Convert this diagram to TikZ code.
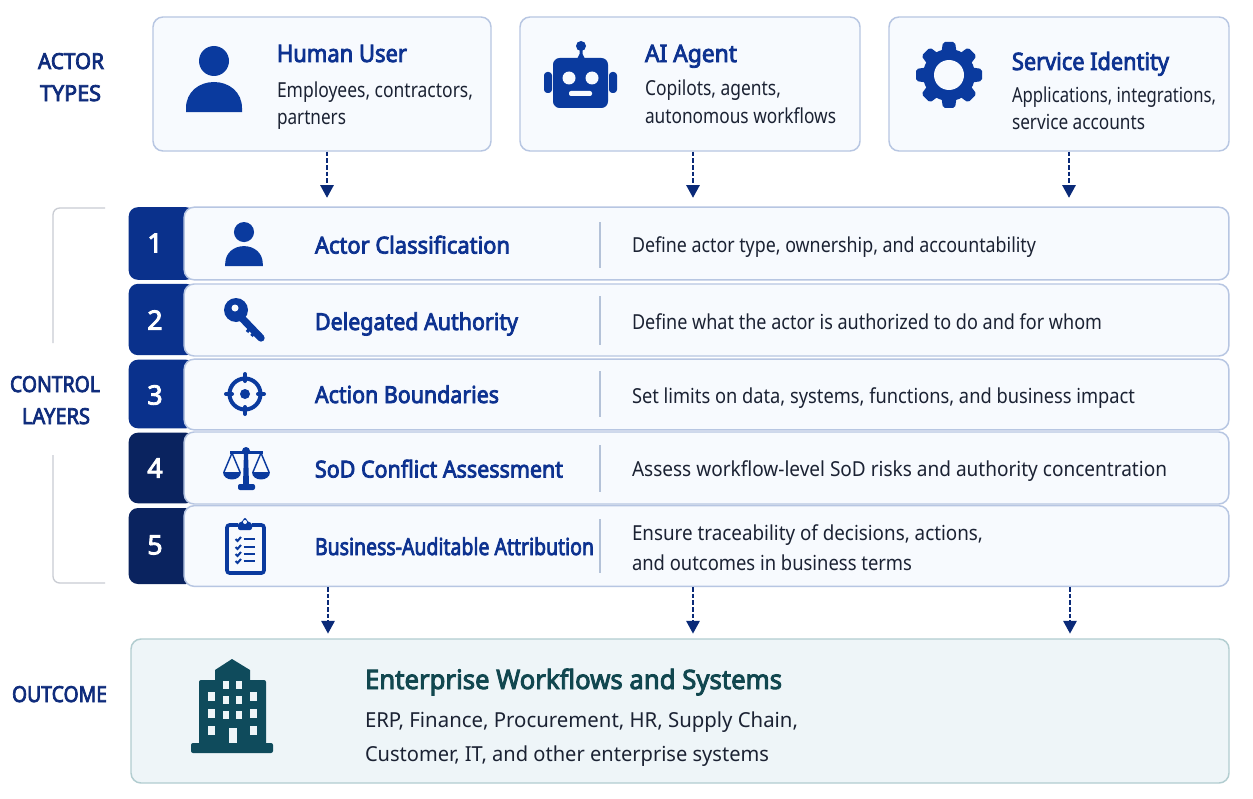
\documentclass[tikz,border=0pt]{standalone}
\usepackage{graphicx}
\usepackage{fontspec}
\usetikzlibrary{arrows.meta}
\setmainfont{Noto Sans}
\newfontfamily\semifont[FakeBold=3.5]{Noto Sans}
\newcommand{\fit}[2]{\resizebox{\dimexpr #1pt*3/4\relax}{\height}{#2}}
\definecolor{cardfill}{HTML}{F7FAFE}
\definecolor{cardline}{HTML}{B7C6E2}
\definecolor{iconblue}{HTML}{0A3A9E}
\definecolor{titleblue}{HTML}{0D3290}
\definecolor{sideblue}{HTML}{0F2C7C}
\definecolor{badgeA}{HTML}{0A318C}
\definecolor{badgeB}{HTML}{0A235F}
\definecolor{bodytext}{HTML}{1B2233}
\definecolor{arrowblue}{HTML}{0A2A78}
\definecolor{divline}{HTML}{B4C2D8}
\definecolor{brack}{HTML}{C9CCD3}
\definecolor{outfill}{HTML}{EEF5F8}
\definecolor{outline}{HTML}{B2CDD0}
\definecolor{outtitle}{HTML}{11474F}
\definecolor{building}{HTML}{0F4B5C}
\tikzset{
  card/.style={draw=cardline,fill=cardfill,line width=1.1pt,rounded corners=7.5pt,inner sep=0pt},
  outcard/.style={draw=outline,fill=outfill,line width=1.1pt,rounded corners=7.5pt,inner sep=0pt},
  badge/.style={fill=#1,rounded corners=7pt,inner sep=0pt,minimum width=50pt},
  txt/.style={anchor=base west,inner sep=0pt,outer sep=0pt},
  side/.style={txt,text=sideblue,font=\semifont\fontsize{16.5}{20}\selectfont},
  head/.style={txt,text=titleblue,font=\semifont\fontsize{18}{22}\selectfont},
  rowhead/.style={txt,text=titleblue,font=\semifont\fontsize{17.5}{22}\selectfont},
  body/.style={txt,text=bodytext,font=\fontsize{15.5}{20}\selectfont},
  num/.style={text=white,inner sep=0pt,font=\semifont\fontsize{20}{24}\selectfont},
  flow/.style={draw=arrowblue,line width=1.3pt,dash pattern=on 3.5pt off 1.5pt,-{Triangle[length=9.5pt,width=10pt]}},
  divider/.style={draw=divline,line width=1pt},
  bracket/.style={draw=brack,line width=1pt,rounded corners=5pt},
  personicon/.pic={
    \fill[iconblue] (0,15) circle[radius=15];
    \fill[iconblue] (-28,66) -- (-28,62) .. controls (-28,46) and (-15,36) .. (0,36) .. controls (15,36) and (28,46) .. (28,62) -- (28,66) -- cycle;
  }
}
\begin{document}
\begin{tikzpicture}[x=0.75pt,y=-0.75pt]
\useasboundingbox (0,0) rectangle (1253,799);
\fill[white] (0,0) rectangle (1253,799);

% actor cards
\node[card,minimum width=253.5pt,minimum height=100.5pt] (human) at (322,84) {};
\node[card,minimum width=255pt,minimum height=100.5pt] (agent) at (690,84) {};
\node[card,minimum width=255pt,minimum height=100.5pt] (service) at (1059,84) {};

% badges
\node[badge=badgeA,minimum height=54.5pt] (b1) at (162,243.5) {};
\node[badge=badgeA,minimum height=53.5pt] (b2) at (162,319.5) {};
\node[badge=badgeA,minimum height=51.5pt] (b3) at (162,394) {};
\node[badge=badgeB,minimum height=53pt] (b4) at (162,468) {};
\node[badge=badgeB,minimum height=57pt] (b5) at (162,546) {};

% rows
\node[card,minimum width=783.5pt,minimum height=54.5pt] (row1) at (706.5,243.5) {};
\node[card,minimum width=783.5pt,minimum height=54pt] (row2) at (706.5,320) {};
\node[card,minimum width=783.5pt,minimum height=53pt] (row3) at (706.5,394.5) {};
\node[card,minimum width=783.5pt,minimum height=54pt] (row4) at (706.5,468) {};
\node[card,minimum width=783.5pt,minimum height=60.5pt] (row5) at (706.5,546) {};

% outcome
\node[outcard,minimum width=823.5pt,minimum height=108pt] (outcome) at (680,711) {};

% connectors
\coordinate (t1) at (327,0);
\coordinate (t2) at (693,0);
\coordinate (t3) at (1069,0);
\coordinate (u1) at (328,0);
\coordinate (u2) at (693,0);
\coordinate (u3) at (1070,0);
\draw[flow,shorten >=6.5pt] (t1 |- human.south) -- (t1 |- row1.north);
\draw[flow,shorten >=6.5pt] (t2 |- agent.south) -- (t2 |- row1.north);
\draw[flow,shorten >=6.5pt] (t3 |- service.south) -- (t3 |- row1.north);
\draw[flow,shorten >=3.5pt] (u1 |- row5.south) -- (u1 |- outcome.north);
\draw[flow,shorten >=3.5pt] (u2 |- row5.south) -- (u2 |- outcome.north);
\draw[flow,shorten >=3.5pt] (u3 |- row5.south) -- (u3 |- outcome.north);

% bracket
\draw[bracket] (105,208) -- (53,208) -- (53,343);
\draw[bracket] (53,455) -- (53,583) -- (105,583);

% dividers
\draw[divider] (600,222) -- (600,268);
\draw[divider] (600,296) -- (600,345);
\draw[divider] (600,371) -- (600,417);
\draw[divider] (600,445) -- (600,492);
\draw[divider] (600,519) -- (600,573);

% side labels
\node[side] (s1) at (38,69) {\fit{66}{ACTOR}};
\node[side] (s2) at (40,101) {\fit{61}{TYPES}};
\node[side] (s3) at (10,392) {\fit{90}{CONTROL}};
\node[side] (s4) at (22,424) {\fit{68}{LAYERS}};
\node[side] (s5) at (12,702) {\fit{95}{OUTCOME}};

% actor card text
\node[head] (h1) at (277,62) {\fit{130}{Human User}};
\node[body] (h1a) at (277,97) {\fit{196}{Employees, contractors,}};
\node[body] (h1b) at (277,124) {\fit{69}{partners}};
\node[head] (h2) at (645,62) {\fit{92}{AI Agent}};
\node[body] (h2a) at (645,95) {\fit{136}{Copilots, agents,}};
\node[body] (h2b) at (645,123.5) {\fit{191}{autonomous workflows}};
\node[head] (h3) at (1012,70) {\fit{157}{Service Identity}};
\node[body] (h3a) at (1012,102) {\fit{204}{Applications, integrations,}};
\node[body] (h3b) at (1012,129) {\fit{133}{service accounts}};

% numbers
\node[num] (n1) at (155,243) {1};
\node[num] (n2) at (155,320) {2};
\node[num] (n3) at (155,395) {3};
\node[num] (n4) at (155,468) {4};
\node[num] (n5) at (155,545) {5};

% row text
\node[rowhead] (r1) at (315,253.5) {\fit{195}{Actor Classification}};
\node[rowhead] (r2) at (315,330) {\fit{203}{Delegated Authority}};
\node[rowhead] (r3) at (315,403) {\fit{184}{Action Boundaries}};
\node[rowhead] (r4) at (315,477.5) {\fit{248}{SoD Conflict Assessment}};
\node[rowhead] (r5) at (315,555) {\fit{279}{Business-Auditable Attribution}};
\node[body] (d1) at (632,252) {\fit{404}{Define actor type, ownership, and accountability}};
\node[body] (d2) at (632,329) {\fit{470}{Define what the actor is authorized to do and for whom}};
\node[body] (d3) at (632,403) {\fit{503}{Set limits on data, systems, functions, and business impact}};
\node[body] (d4) at (632,476) {\fit{535}{Assess workflow-level SoD risks and authority concentration}};
\node[body] (d5a) at (632,540) {\fit{351}{Ensure traceability of decisions, actions,}};
\node[body] (d5b) at (632,570) {\fit{280}{and outcomes in business terms}};

% outcome text
\node[txt,text=outtitle,font=\semifont\fontsize{20}{24}\selectfont] (o1) at (365,689) {\fit{417}{Enterprise Workflows and Systems}};
\node[body] (o2) at (365,727) {\fit{433}{ERP, Finance, Procurement, HR, Supply Chain,}};
\node[body] (o3) at (365,761) {\fit{404}{Customer, IT, and other enterprise systems}};

% person icons
\pic at (214,46) {personicon};
\pic[scale=0.67] at (244,222) {personicon};

% robot icon
\fill[iconblue,rounded corners=5pt] (553,58) rectangle (608,108);
\fill[iconblue,rounded corners=2.5pt] (544,72) rectangle (552,93);
\fill[iconblue,rounded corners=2.5pt] (609,72) rectangle (617,93);
\fill[iconblue] (581,46) circle[radius=5];
\fill[iconblue] (579.5,48) -- (582.5,48) -- (582.5,54) -- (585,59) -- (577,59) -- (579.5,54) -- cycle;
\fill[cardfill] (569,78) circle[radius=6.5];
\fill[cardfill] (592,78) circle[radius=6.5];
\fill[cardfill,rounded corners=1.5pt] (569,91) rectangle (592,96);

% gear icon
\begin{scope}[shift={(949,75)}]
  \fill[iconblue] (0,0) circle[radius=26];
  \foreach \a in {0,45,...,315}{
    \begin{scope}[rotate=\a]
      \fill[iconblue,rounded corners=1.5pt] (-8,-20) -- (-6,-33) -- (6,-33) -- (8,-20) -- cycle;
    \end{scope}
  }
  \fill[cardfill] (0,0) circle[radius=15];
\end{scope}

% key icon
\fill[iconblue] (236,310) circle[radius=12];
\draw[iconblue,line width=5.5pt,line cap=round] (238,314) -- (261,338);
\draw[iconblue,line width=2.4pt] (251,327) -- (247,332);
\draw[iconblue,line width=2.4pt] (255.5,331) -- (251.5,336);
\fill[cardfill] (235,308) circle[radius=3.5];

% target icon
\begin{scope}[shift={(245,394)}]
  \draw[iconblue,line width=3pt] (0,0) circle[radius=15.5];
  \fill[iconblue] (0,0) circle[radius=5];
  \draw[iconblue,line width=3pt,line cap=round] (-19,0) -- (-13,0);
  \draw[iconblue,line width=3pt,line cap=round] (19,0) -- (13,0);
  \draw[iconblue,line width=3pt,line cap=round] (0,-20) -- (0,-13);
  \draw[iconblue,line width=3pt,line cap=round] (0,20) -- (0,13);
\end{scope}

% scales icon
\fill[iconblue] (244,452) -- (248,452) -- (249,484) -- (243,484) -- cycle;
\fill[iconblue,rounded corners=1.5pt] (238,484) rectangle (255,490);
\fill[iconblue] (246,451) circle[radius=4];
\draw[iconblue,line width=1.8pt] (230,452.5) -- (263,452.5);
\draw[iconblue,line width=1.1pt] (224,472) -- (232,453) -- (240,472);
\draw[iconblue,line width=1.1pt] (253,472) -- (261,453) -- (269,472);
\fill[iconblue] (223,472) .. controls (223,482) and (241,482) .. (241,472) -- cycle;
\fill[iconblue] (252,472) .. controls (252,482) and (270,482) .. (270,472) -- cycle;

% clipboard icon
\draw[iconblue,line width=2.8pt,rounded corners=2pt] (238,525) -- (227,525) -- (227,573) -- (264,573) -- (264,525) -- (252,525);
\fill[iconblue,rounded corners=1.5pt] (238,530) -- (238,523) -- (241,523) -- (245,517) -- (249,523) -- (252,523) -- (252,530) -- cycle;
\fill[cardfill] (245,522) circle[radius=2];
\foreach \yy in {539,547,554,561}{
  \draw[iconblue,line width=1.5pt] (235.5,\yy) -- (237.5,\yy+2) -- (241,\yy-2);
  \draw[iconblue,line width=2pt] (243.5,\yy) -- (255,\yy);
}

% building icon
\fill[building,rounded corners=1.5pt] (191,743) rectangle (273,753);
\fill[building,rounded corners=1.5pt] (199,680) rectangle (266,745);
\fill[building] (215,682) -- (215,670) -- (232,659) -- (250,670) -- (250,682) -- cycle;
\foreach \xa in {223,236}{
  \foreach \ya in {681,696,711}{
    \fill[outfill] (\xa,\ya) rectangle (\xa+6,\ya+8);
  }
}
\foreach \xa in {208,250}{
  \foreach \ya in {692,709,726}{
    \fill[outfill] (\xa,\ya) rectangle (\xa+6.5,\ya+9);
  }
}
\fill[outfill] (229,728) rectangle (237,743);
\end{tikzpicture}
\end{document}
